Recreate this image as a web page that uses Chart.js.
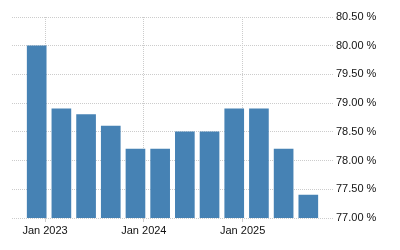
<!DOCTYPE html>
<html>
<head>
<meta charset="utf-8">
<script src="https://cdn.jsdelivr.net/npm/chart.js@4"></script>
<style>
  html, body { margin: 0; padding: 0; background: #fff; }
  #wrap { width: 400px; height: 250px; position: relative; }
</style>
</head>
<body>
<div id="wrap"><canvas id="c"></canvas></div>
<script>
const categories = ['Q1 2023','Q2 2023','Q3 2023','Q4 2023','Q1 2024','Q2 2024','Q3 2024','Q4 2024','Q1 2025','Q2 2025','Q3 2025','Q4 2025'];
const values = [80.0, 78.9, 78.8, 78.6, 78.2, 78.2, 78.5, 78.5, 78.9, 78.9, 78.2, 77.4];
const tickLabels = ['Jan 2023', 'Jan 2024', 'Jan 2025'];
const tickIndex = [0, 4, 8];
const yTicks = [77.0, 77.5, 78.0, 78.5, 79.0, 79.5, 80.0, 80.5];

const TICK_OFFSET = 0.34;
const font = { family: '"Liberation Sans", Arial, sans-serif', size: 11 };

new Chart(document.getElementById('c'), {
  type: 'bar',
  data: {
    datasets: [{
      label: 'Value',
      data: values.map((v, i) => ({ x: i, y: v, c: categories[i] })),
      backgroundColor: '#4682b4',
      borderWidth: 0,
      barThickness: 19
    }]
  },
  options: {
    responsive: true,
    maintainAspectRatio: false,
    animation: false,
    layout: { padding: { left: 12, top: 17, right: 0, bottom: 0 } },
    plugins: { legend: { display: false }, tooltip: { enabled: false } },
    scales: {
      x: {
        type: 'linear',
        offset: false,
        min: -1,
        max: 12,
        afterBuildTicks: (scale) => {
          scale.ticks = tickIndex.map(i => ({ value: i + TICK_OFFSET }));
        },
        afterFit: (scale) => { scale.height = 32; },
        grid: {
          offset: false,
          color: '#cccccc',
          tickColor: '#cccccc',
          tickLength: 4,
          drawTicks: true
        },
        border: { display: false, dash: [1, 1] },
        ticks: {
          autoSkip: false,
          maxRotation: 0,
          padding: 2,
          color: '#111',
          font: font,
          callback: (val, idx) => tickLabels[idx]
        }
      },
      y: {
        type: 'linear',
        position: 'right',
        min: 77,
        max: 80.5,
        afterBuildTicks: (scale) => {
          scale.ticks = yTicks.map(v => ({ value: v }));
        },
        afterFit: (scale) => { scale.width = 67; },
        grid: { color: '#cccccc', drawTicks: false },
        border: { display: false, dash: [1, 1] },
        ticks: {
          padding: 3,
          color: '#111',
          font: font,
          callback: (v) => Number(v).toFixed(2) + ' %'
        }
      }
    }
  }
});
</script>
</body>
</html>
